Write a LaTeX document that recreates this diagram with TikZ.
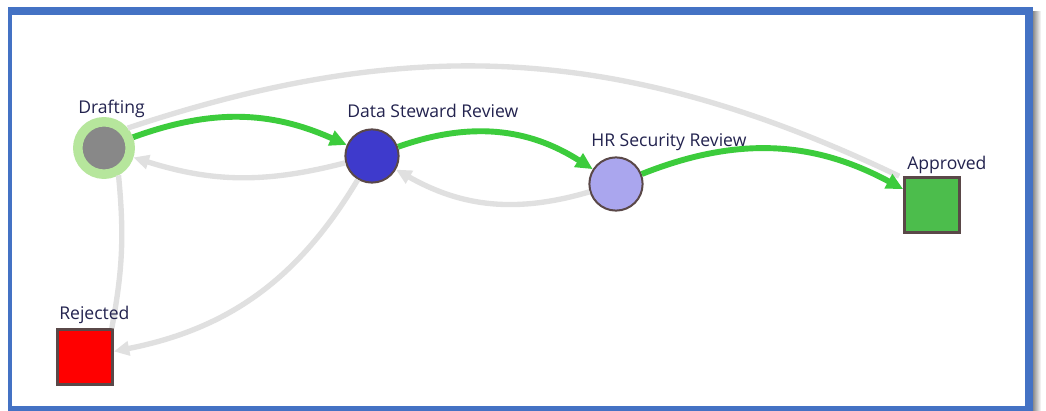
\documentclass[tikz,border=0pt]{standalone}
\usepackage{fontspec}
\setmainfont{Open Sans}
\usetikzlibrary{arrows.meta}

\definecolor{frameblue}{HTML}{4472C4}
\definecolor{nodeborder}{HTML}{5A4848}
\definecolor{labelnavy}{HTML}{23234F}
\definecolor{flowgreen}{HTML}{3CCC3C}
\definecolor{edgegray}{HTML}{E0E0E0}
\definecolor{ringgreen}{HTML}{B6E69C}
\definecolor{draftgray}{HTML}{888888}
\definecolor{stewardblue}{HTML}{3E3ACC}
\definecolor{hrlilac}{HTML}{AAA6EE}
\definecolor{approvedgreen}{HTML}{4CBD4C}

\begin{document}
\begin{tikzpicture}[x=0.025cm, y=-0.025cm,
  state/.style={circle, draw=nodeborder, line width=0.05cm, minimum size=1.33cm, inner sep=0pt},
  finalstate/.style={rectangle, draw=nodeborder, line width=0.07cm, minimum size=1.37cm, inner sep=0pt},
  lbl/.style={anchor=base west, inner sep=0pt, text=labelnavy, font=\fontsize{12.5}{15}\selectfont},
  fwdedge/.style={draw=flowgreen, line width=4.2pt, -{Triangle[length=12pt,width=11pt]}},
  backedge/.style={draw=edgegray, line width=3.8pt, -{Triangle[length=11pt,width=10pt]}},
  grayline/.style={draw=edgegray, line width=3.8pt}]
  \useasboundingbox (0,0) rectangle (1046,411);

  % Frame
  \shade[left color=black!45, right color=white] (1033,12) rectangle (1041,411);
  \fill[frameblue] (8,7) rectangle (1033,416);
  \fill[white] (12,15) rectangle (1025,406);

  % States
  \node[circle, fill=draftgray, draw=ringgreen, line width=0.2375cm, minimum size=1.31cm, inner sep=0pt] (draft) at (104,148) {};
  \node[state, fill=stewardblue] (steward) at (372,156) {};
  \node[state, fill=hrlilac] (hr) at (616,184) {};
  \node[finalstate, fill=approvedgreen] (approved) at (932,205) {};
  \node[finalstate, fill=red] (rejected) at (85,357) {};

  % Gray transitions
  \draw[grayline] (draft.40) to[bend left=22] ([xshift=-0.1cm]approved.north west);
  \draw[grayline] (draft.-62) to[bend left=8] ([xshift=-0.05cm]rejected.north east);
  \draw[backedge] (steward) to[bend left=16] (draft);
  \draw[backedge] (hr) to[bend left=23] (steward);
  \draw[backedge] (steward) to[bend left=24] (rejected);

  % Green path
  \draw[fwdedge] (draft) to[bend left=22] (steward);
  \draw[fwdedge] (steward) to[bend left=26] (hr);
  \draw[fwdedge] (hr) to[bend left=25] (approved);

  % Labels
  \node[lbl] (draft-lbl) at (78,114) {Drafting};
  \node[lbl] (steward-lbl) at (347,118) {Data Steward Review};
  \node[lbl] (hr-lbl) at (591,147) {HR Security Review};
  \node[lbl] (approved-lbl) at (907,170) {Approved};
  \node[lbl] (rejected-lbl) at (59,320) {Rejected};
\end{tikzpicture}
\end{document}
